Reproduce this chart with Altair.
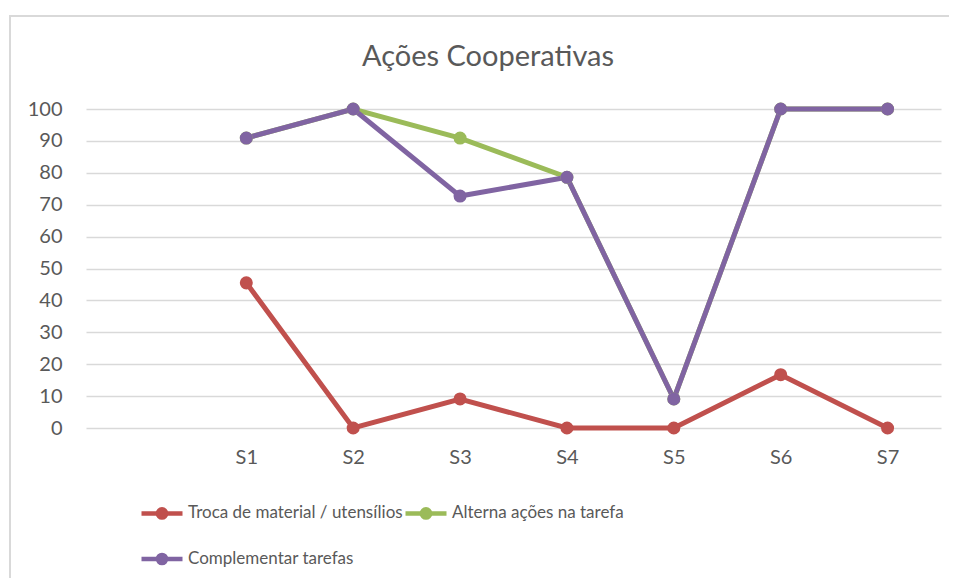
import altair as alt
import pandas as pd

# ---- data ----
categories = [" ", "S1", "S2", "S3", "S4", "S5", "S6", "S7"]
sessions = ["S1", "S2", "S3", "S4", "S5", "S6", "S7"]
series_names = ["Troca de material / utensílios", "Alterna ações na tarefa", "Complementar tarefas"]
troca = [45.5, 0, 9.1, 0, 0, 16.7, 0]
alterna = [90.9, 100, 90.9, 78.6, 9.1, 100, 100]
complementar = [90.9, 100, 72.7, 78.6, 9.1, 100, 100]
y_ticks = [0, 10, 20, 30, 40, 50, 60, 70, 80, 90, 100]
colors = ["#C0504D", "#9BBB59", "#8064A2"]
title_text = "Ações Cooperativas"

rows = []
for name, vals in zip(series_names, [troca, alterna, complementar]):
    for s, v in zip(sessions, vals):
        rows.append({"Sessão": s, "Valor": v, "Série": name})
df = pd.DataFrame(rows)

FONT = "Lato"
TXT = "#595959"

legend_symbol = (
    "M-1,0L1,0 "
    "M-0.2,0A0.2,0.2 0 1,1 0.2,0A0.2,0.2 0 1,1 -0.2,0Z "
    "M-0.09,0A0.09,0.09 0 1,1 0.09,0A0.09,0.09 0 1,1 -0.09,0Z"
)

x_enc = alt.X(
    "Sessão:N",
    scale=alt.Scale(type="point", domain=categories, padding=0.5),
    axis=alt.Axis(title=None, domain=False, ticks=False, grid=False, labelAngle=0,
                  labelFont=FONT, labelFontSize=20, labelColor=TXT, labelPadding=19),
)
y_enc = alt.Y(
    "Valor:Q",
    scale=alt.Scale(domain=[0, 100], nice=False),
    axis=alt.Axis(title=None, domain=False, ticks=False, values=y_ticks,
                  gridColor="#D9D9D9", gridWidth=1.3,
                  labelFont=FONT, labelFontSize=20, labelColor=TXT, labelPadding=24),
)
color_enc = alt.Color(
    "Série:N",
    scale=alt.Scale(domain=series_names, range=colors),
    legend=alt.Legend(
        title=None, orient="none", legendX=53, legendY=381,
        direction="horizontal", columns=2,
        symbolType=legend_symbol, symbolSize=1681, symbolStrokeWidth=4.5,
        symbolOpacity=1,
        labelFont=FONT, labelFontSize=17, labelColor=TXT, labelOffset=3,
        labelLimit=0, columnPadding=-7, rowPadding=9, padding=0,
    ),
)

base = alt.Chart(df)
lines = base.mark_line(strokeWidth=5).encode(x=x_enc, y=y_enc, color=color_enc)
points = base.mark_point(filled=True, size=170, opacity=1).encode(x=x_enc, y=y_enc, color=color_enc)

frame_df = pd.DataFrame({"t": [title_text]})
left_border = alt.Chart(frame_df).mark_rule(color="#D9D9D9", strokeWidth=2).encode(
    x=alt.value(-76), y=alt.value(-93), y2=alt.value(700))
top_border = alt.Chart(frame_df).mark_rule(color="#D9D9D9", strokeWidth=2).encode(
    x=alt.value(-77), x2=alt.value(1000), y=alt.value(-93))
title = alt.Chart(frame_df).mark_text(
    font=FONT, fontSize=29, color=TXT, align="center", baseline="alphabetic"
).encode(text="t:N", x=alt.value(402), y=alt.value(-43))

chart = alt.layer(left_border, top_border, title, lines, points).properties(
    width=855,
    height=319,
    autosize=alt.AutoSizeParams(type="none"),
    padding={"left": 78, "top": 101, "right": 8, "bottom": 150},
).configure_view(stroke=None)

chart.save("out.html", embed_options={"renderer": "svg", "actions": False})
